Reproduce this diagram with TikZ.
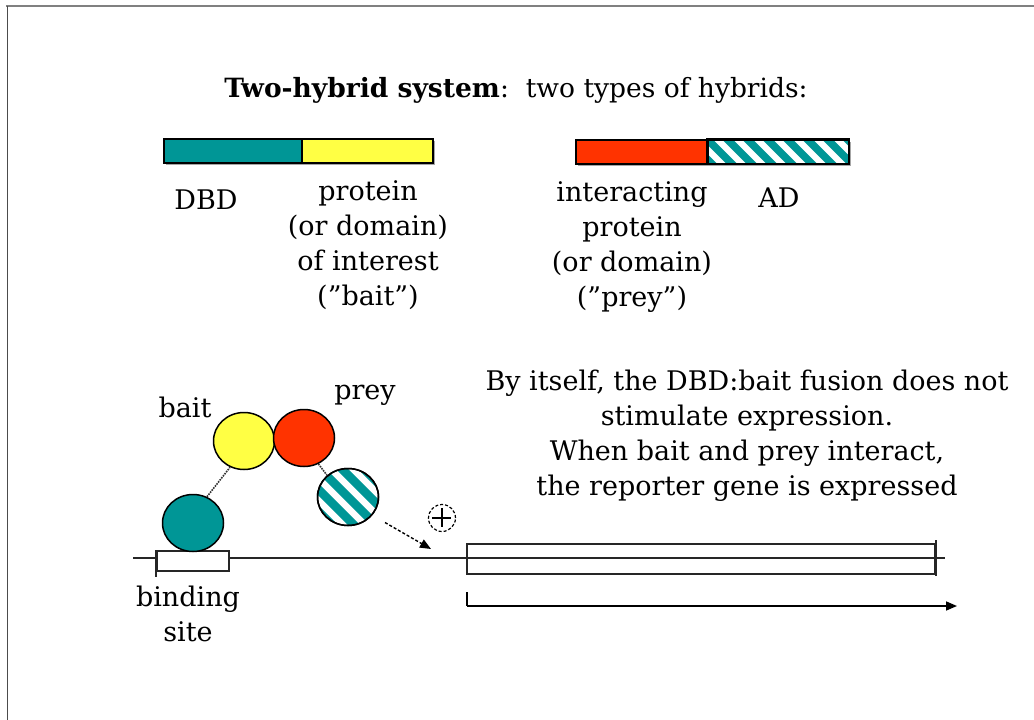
\documentclass[tikz,border=0pt]{standalone}
\usepackage{fontspec}
\setmainfont{DejaVu Serif}
\usetikzlibrary{shapes.geometric,arrows.meta,shadows}

\definecolor{dbdteal}{RGB}{0,150,150}
\definecolor{baityellow}{RGB}{255,255,68}
\definecolor{preyred}{RGB}{255,51,0}
\definecolor{framegray}{RGB}{128,128,128}

\tikzset{
  lbl/.style={font=\fontsize{27}{35}\selectfont, align=center, inner sep=0pt},
  bar/.style={draw=black, line width=1.5pt, rectangle, inner sep=0pt,
              minimum height=24pt, anchor=north west,
              drop shadow={shadow xshift=2.5pt, shadow yshift=-2.5pt, fill=gray!70, opacity=1}},
  blob/.style={draw=black, line width=1.5pt, ellipse, inner sep=0pt,
               minimum width=61pt, minimum height=57pt},
  stripes/.style={draw=dbdteal, line width=#1},
  link/.style={densely dotted, line width=1.6pt, draw=black!80},
  dnaline/.style={line width=1.6pt, draw=black!85},
}

\begin{document}
\begin{tikzpicture}[x=1pt, y=-1pt]
\useasboundingbox (0,0) rectangle (1034,720);

% page frame (top and left edges)
\draw[framegray, line width=2pt] (6,6) -- (1034,6);
\draw[black!70, line width=1pt] (7,6) -- (7,720);

% title
\node[lbl, font=\fontsize{26.5}{32}\selectfont] (title) at (516,90)
  {\textbf{Two-hybrid system}:\ \ two types of hybrids:};

% hybrid 1: DBD + bait
\node[bar, fill=dbdteal, minimum width=138pt] (dbdbar) at (163,138) {};
\node[bar, fill=baityellow, minimum width=131pt] (baitbar) at (301,138) {};
% hybrid 2: prey + AD (striped)
\node[bar, fill=preyred, minimum width=132pt] (preybar) at (575,139) {};
\node[bar, fill=white, minimum width=141pt,
      path picture={
        \foreach \s in {-40,-20,...,180}
          \draw[stripes=7.5pt] ([shift={(\s-20,-20)}]path picture bounding box.north west) -- ++(64,64);
      }] (adbar) at (707,139) {};
\draw[line width=1.5pt] (adbar.north west) rectangle (adbar.south east);

% labels under the hybrids
\node[lbl] (dbdlbl) at (206,200) {DBD};
\node[lbl] (baitlbl) at (368,245) {protein\\(or domain)\\of interest\\(”bait”)};
\node[lbl] (preylbl) at (632,247) {interacting\\protein\\(or domain)\\(”prey”)};
\node[lbl] (adlbl) at (779,198) {AD};

% DNA with binding site and reporter gene
\coordinate (dnaL) at (133,558);
\coordinate (dnaR) at (945,558);
\draw[dnaline] (dnaL) -- (dnaR);
\node[draw=black!85, line width=1.6pt, fill=white, rectangle, inner sep=0pt,
      minimum width=72pt, minimum height=20pt] (site) at (193,561) {};
\draw[dnaline] (site.north west) -- ++(0,27);
\node[draw=black!85, line width=1.6pt, rectangle, inner sep=0pt,
      minimum width=468pt, minimum height=30pt] (reporter) at (701,559) {};
\draw[dnaline] (reporter.north east) ++(0,-3) -- ++(0,36);

% transcription arrow
\coordinate (tss) at (467,592);
\coordinate (txEnd) at (957,606);
\draw[line width=2.2pt] (tss) -- (467,606);
\draw[line width=1.6pt, -{Triangle[length=11pt,width=9pt]}] (467,606) -- (txEnd);

% the protein complex on DNA
\node[blob, fill=dbdteal] (dbd) at (193,523) {};
\node[blob, fill=baityellow] (bait) at (244,441) {};
\node[blob, fill=preyred] (prey) at (304,438) {};
\node[blob, fill=white,
      path picture={
        \foreach \s in {-66,-44,...,88}
          \draw[stripes=8.5pt] ([shift={(\s-45,-45)}]path picture bounding box.center) -- ++(90,90);
      }] (ad) at (348,497) {};
\draw[line width=1.5pt] (ad) ellipse[x radius=30.5, y radius=28.5];

\draw[link] (dbd.62) -- (bait.242);
\draw[link] (prey.299) -- (ad.134);

% activation arrow towards the promoter
\coordinate (actEnd) at (431,549);
\draw[densely dashed, line width=1.4pt, -{Triangle[length=11pt,width=9pt]}]
  (ad.-35) ++(12,8) -- (actEnd);
\node[circle, draw, densely dashed, line width=1.2pt, minimum size=27pt, inner sep=0pt] (plus) at (442,518) {};
\draw[line width=1.4pt] (plus.north) ++(0,4) -- ++(0,19)
                        (plus.west) ++(4,0) -- ++(19,0);

% labels on the lower part
\node[lbl] (baitname) at (185,407) {bait};
\node[lbl] (preyname) at (365,395) {prey};
\node[lbl] (sitelbl) at (188,614) {binding\\site};
\node[lbl] (note) at (747,436) {By itself, the DBD:bait fusion does not\\stimulate expression.\\When bait and prey interact,\\the reporter gene is expressed};
\end{tikzpicture}
\end{document}
